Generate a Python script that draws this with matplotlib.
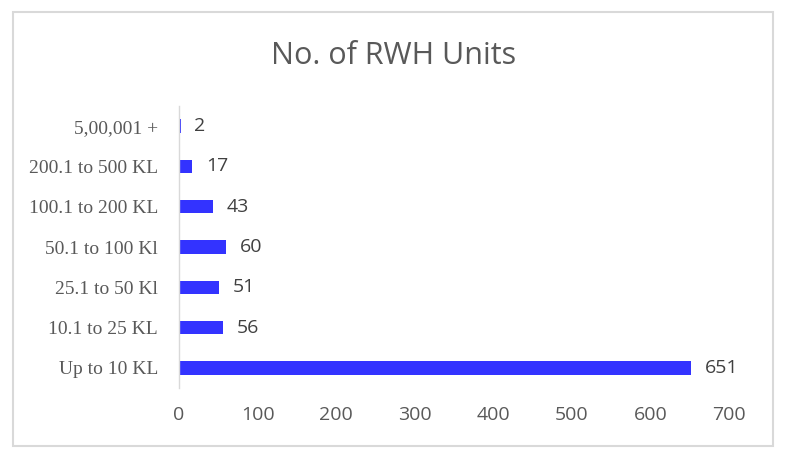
import matplotlib
matplotlib.use("Agg")
from matplotlib import pyplot as plt
from matplotlib.patches import Rectangle

categories = ["Up to 10 KL", "10.1 to 25 KL", "25.1 to 50 Kl", "50.1 to 100 Kl",
              "100.1 to 200 KL", "200.1 to 500 KL", "5,00,001 +"]
units = [651, 56, 51, 60, 43, 17, 2]
x_ticks = [0, 100, 200, 300, 400, 500, 600, 700]

bar_color = "#3333FF"
grey_text = "#595959"

fig = plt.figure(figsize=(7.88, 4.62), dpi=100)
ax = fig.add_axes([179 / 788, 1 - 388 / 462, 550 / 788, 282 / 462])

# chart border like the office chart frame
fig.patches.append(Rectangle((13 / 788, 1 - 446 / 462), 760 / 788, 434 / 462,
                             transform=fig.transFigure, fill=False,
                             edgecolor="#d9d9d9", linewidth=1.5))

pos = list(range(len(categories)))
ax.barh(pos, units, height=0.33, color=bar_color)
for p, v in zip(pos, units):
    ax.annotate(str(v), (v, p), xytext=(10, 0), textcoords="offset points",
                va="center", ha="left", fontsize=14, color="#404040",
                family="Open Sans")

ax.set_xlim(0, 700)
ax.set_ylim(-0.5, len(categories) - 0.5)
ax.set_xticks(x_ticks)
ax.set_xticklabels([str(t) for t in x_ticks], family="Open Sans", fontsize=14,
                   color=grey_text)
ax.set_yticks(pos)
ax.set_yticklabels(categories, family="Liberation Serif", fontsize=14,
                   color=grey_text)
ax.tick_params(axis="x", length=0, pad=13)
ax.tick_params(axis="y", length=0, pad=15)

for side in ["top", "right", "bottom"]:
    ax.spines[side].set_visible(False)
ax.spines["left"].set_color("#d9d9d9")
ax.spines["left"].set_linewidth(1)

fig.text(394 / 788, 1 - 56 / 462, "No. of RWH Units", ha="center", va="center",
         fontsize=22, color=grey_text, family="Open Sans")

fig.savefig("out.png", dpi=100)
